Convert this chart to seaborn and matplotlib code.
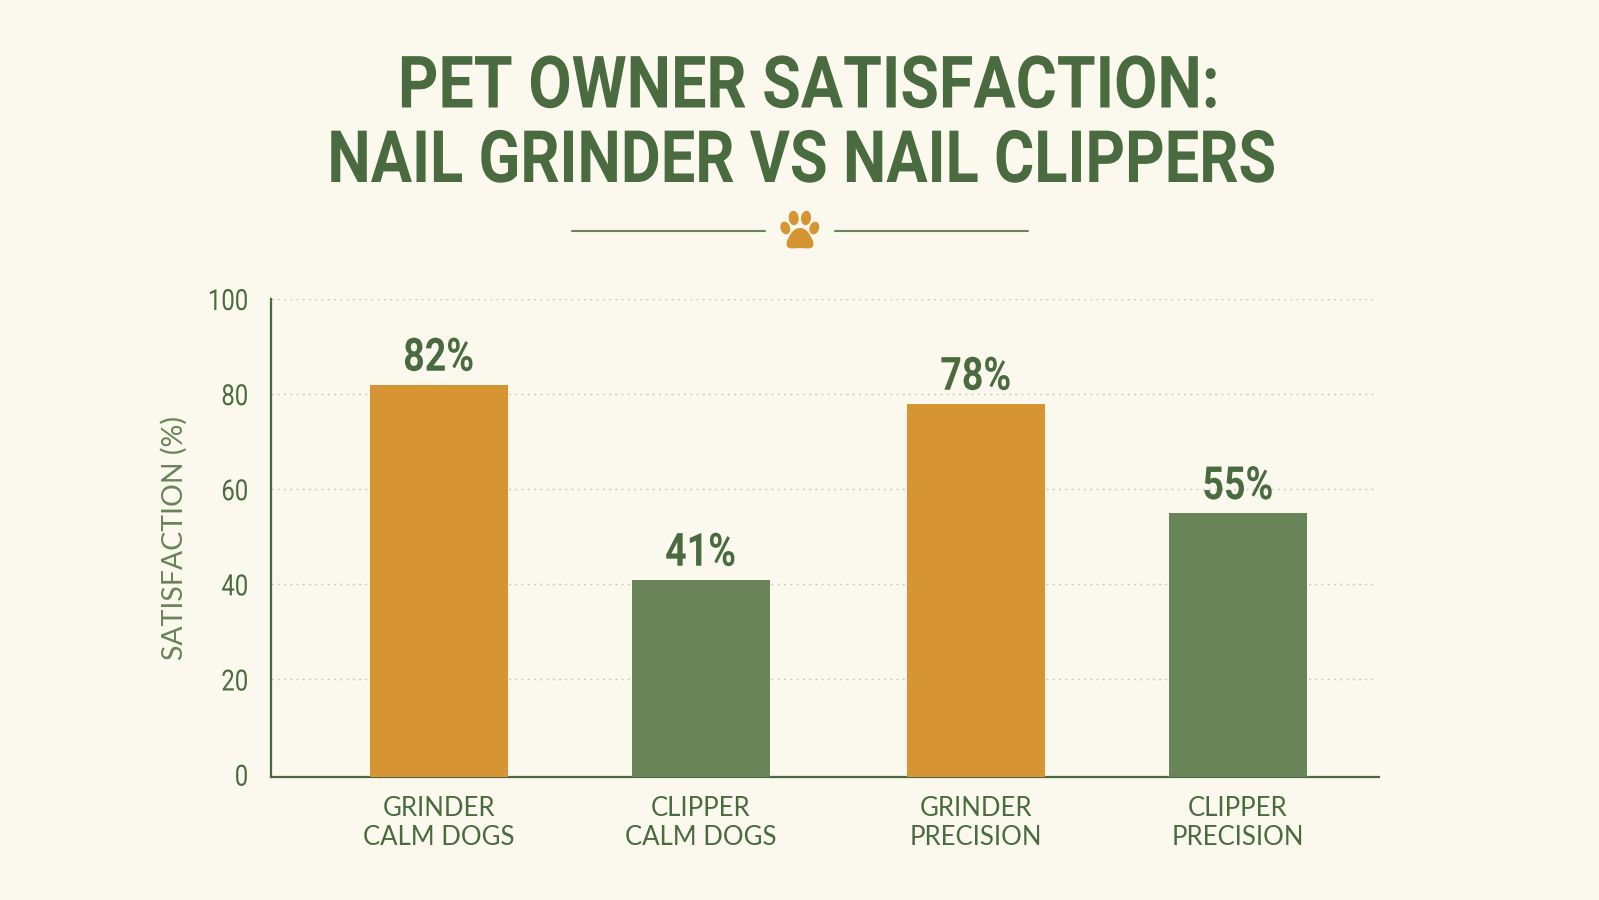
import matplotlib
matplotlib.use("Agg")
import matplotlib.pyplot as plt
from matplotlib.lines import Line2D
from matplotlib.patches import Ellipse, PathPatch
from matplotlib.path import Path
from matplotlib.patheffects import AbstractPathEffect
from matplotlib.transforms import Affine2D
import seaborn as sns
import pandas as pd

title_lines = ["PET OWNER SATISFACTION:", "NAIL GRINDER VS NAIL CLIPPERS"]
categories = ["GRINDER\nCALM DOGS", "CLIPPER\nCALM DOGS", "GRINDER\nPRECISION", "CLIPPER\nPRECISION"]
tools = ["Grinder", "Clipper", "Grinder", "Clipper"]
satisfaction = [82, 41, 78, 55]
slots = [0.0, 1.0, 2.05, 3.05]
y_ticks = [0, 20, 40, 60, 80, 100]

BG = "#fbf8ee"
ORANGE = "#d69433"
GREEN = "#688458"
INK = "#4a6b3f"
W, H = 1599, 900
Y_FLOOR = -0.5


class Condense(AbstractPathEffect):
    """Narrows text glyphs horizontally, anchored on the text's centre or right edge."""

    def __init__(self, factor, anchor="center"):
        super().__init__()
        self.factor = factor
        self.anchor = anchor

    def draw_path(self, renderer, gc, tpath, affine, rgbFace=None):
        box = tpath.get_extents()
        pivot = box.x1 if self.anchor == "right" else 0.5 * (box.x0 + box.x1)
        squeeze = Affine2D().translate(-pivot, 0).scale(self.factor, 1).translate(pivot, 0)
        renderer.draw_path(gc, tpath, squeeze + affine, rgbFace)


sns.set_theme(style="white", rc={"figure.facecolor": BG, "axes.facecolor": BG})
plt.rcParams["font.family"] = ["Roboto", "DejaVu Sans"]

fig = plt.figure(figsize=(W / 100, H / 100), dpi=100)
ax = fig.add_axes([270.7 / W, 1 - 777 / H, (1379 - 270.7) / W, (777 - 299) / H])

frame = pd.DataFrame({"slot": slots, "value": satisfaction, "tool": tools})
sns.barplot(data=frame, x="slot", y="value", hue="tool", dodge=False, native_scale=True,
            palette={"Grinder": ORANGE, "Clipper": GREEN}, width=0.527, legend=False,
            saturation=1, linewidth=0, ax=ax, zorder=3)

ax.set_xlim(-0.641, 3.589)
ax.set_ylim(Y_FLOOR, 100)
# Bars run down to the axis line, which sits just under the zero level
for bar in ax.patches:
    top = bar.get_y() + bar.get_height()
    bar.set_y(Y_FLOOR)
    bar.set_height(top - Y_FLOOR)

ax.set_xticks(slots, categories)
ax.set_yticks(y_ticks)
ax.set_xlabel("")
ax.set_ylabel("SATISFACTION (%)", fontsize=20.5, color=GREEN, family="Lato")
ax.yaxis.set_label_coords(-0.0753, 0.5)
ax.tick_params(axis="both", length=0, colors=INK)
ax.tick_params(axis="y", labelsize=21, pad=16)
ax.tick_params(axis="x", labelsize=18.5, pad=14)
for lab in ax.get_xticklabels():
    lab.set_family("Lato")
    lab.set_linespacing(1.2)
for lab in ax.get_yticklabels():
    lab.set_path_effects([Condense(0.82, "right")])

ax.hlines(y_ticks[1:], 0, 0.9964, transform=ax.get_yaxis_transform(), color="#c9ccb8",
          linestyle=(0, (1.5, 3)), linewidth=1, zorder=1)
for side in ("top", "right"):
    ax.spines[side].set_visible(False)
for side in ("left", "bottom"):
    ax.spines[side].set_color(INK)
    ax.spines[side].set_linewidth(1.6)

for x, v in zip(slots, satisfaction):
    ax.annotate(f"{v}%", (x, v), xytext=(0, 10), textcoords="offset points",
                ha="center", va="baseline", fontsize=33, fontweight="bold", color=INK,
                path_effects=[Condense(0.82)])

for line, base, centre, narrow in zip(title_lines, (107.5, 182), (809, 802), (0.87, 0.85)):
    fig.text(centre / W, 1 - base / H, line, ha="center", va="baseline",
             fontsize=52, fontweight="bold", color=INK, path_effects=[Condense(narrow)])

# Divider rules either side of the paw emblem, in pixel coordinates
overlay = fig.add_axes([0, 0, 1, 1], facecolor="none")
overlay.set_xlim(0, W)
overlay.set_ylim(H, 0)
overlay.axis("off")
for x0, x1 in ((572, 765), (835, 1028)):
    overlay.add_line(Line2D([x0, x1], [230.7, 230.7], color=GREEN, linewidth=1.5))
for cx, cy, w, h, ang in ((793.7, 218, 10, 14.5, -6), (806, 218, 10, 14.5, 6),
                          (785.3, 228, 9.5, 13, -18), (814.3, 228, 9.5, 13, 18)):
    overlay.add_patch(Ellipse((cx, cy), w, h, angle=ang, color=ORANGE, lw=0))
pad = Path(
    [(800, 228), (806, 228), (809, 233), (811, 237), (813, 240), (814, 243), (813, 246),
     (811.5, 250), (805, 248), (800, 248), (795, 248), (788.5, 250), (787, 246),
     (786, 243), (787, 240), (789, 237), (791, 233), (794, 228), (800, 228), (800, 228)],
    [Path.MOVETO] + [Path.CURVE4] * 18 + [Path.CLOSEPOLY],
)
overlay.add_patch(PathPatch(pad, color=ORANGE, lw=0))

fig.savefig("out.png", dpi=100, facecolor=BG)
